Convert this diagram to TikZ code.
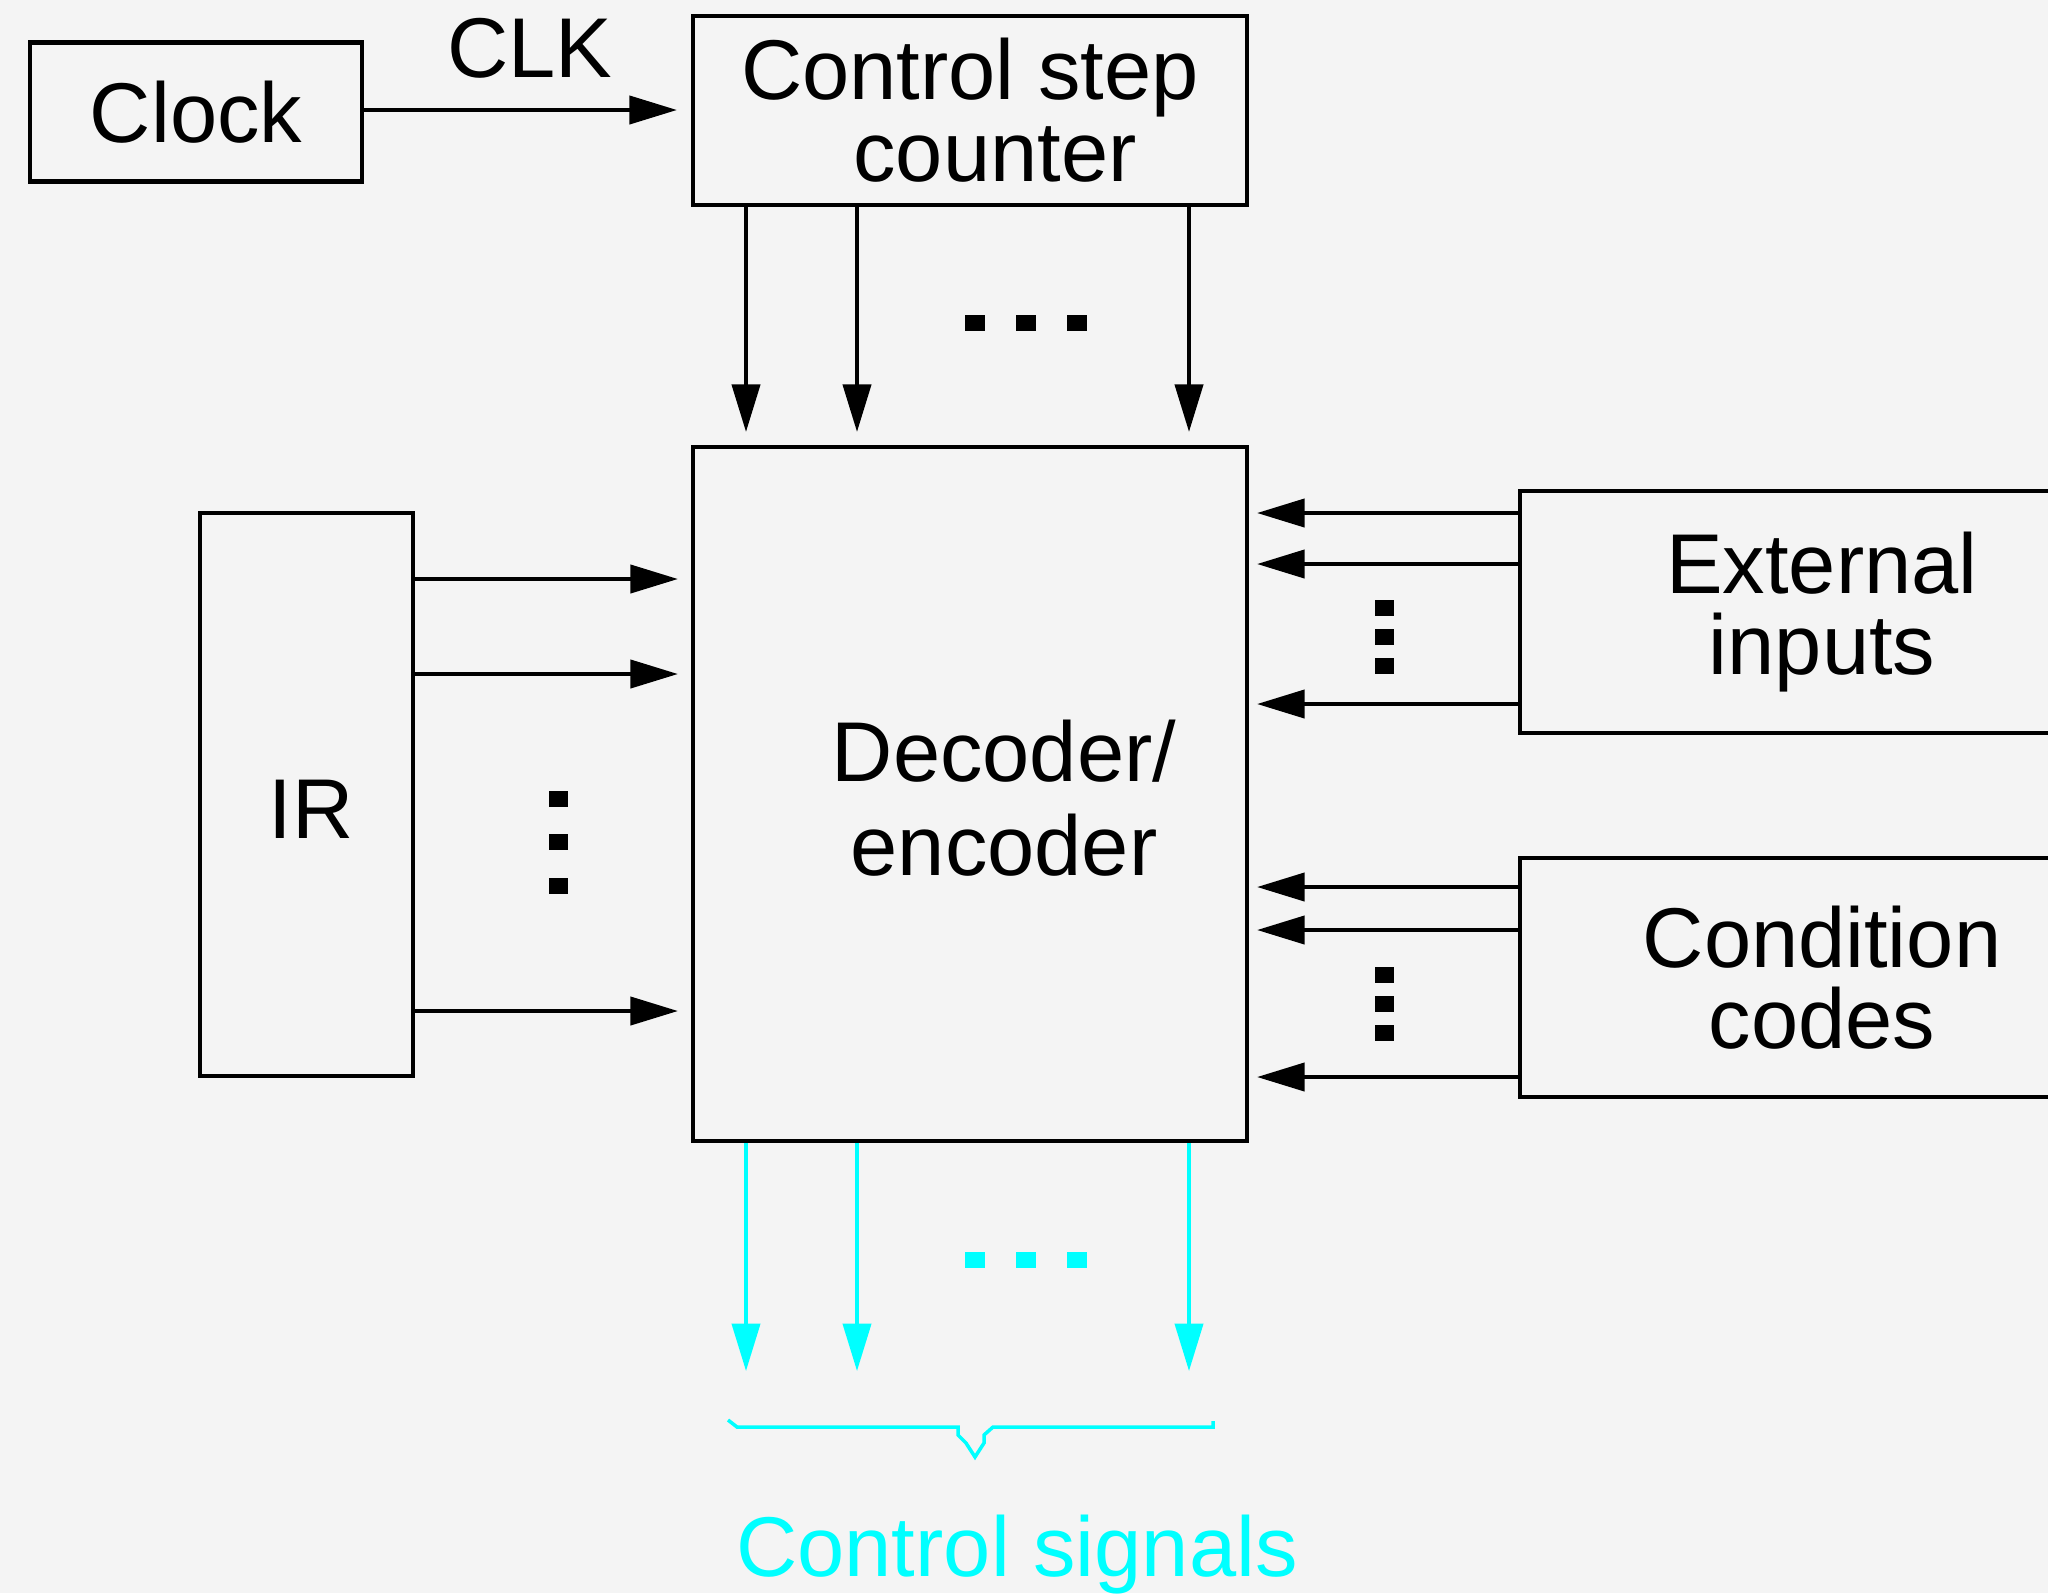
\documentclass[tikz,border=0pt]{standalone}
\usepackage{fontspec}
\setmainfont{Liberation Sans}
\usetikzlibrary{arrows.meta}
\definecolor{paper}{HTML}{F4F4F4}
\definecolor{sigcyan}{HTML}{00FFFF}
\tikzset{
    block/.style={draw, line width=2.5pt, inner sep=0pt, align=center,
        font=\fontsize{48.3}{46.5}\selectfont},
    txt/.style={inner sep=0pt, align=center, font=\fontsize{48.3}{46.5}\selectfont},
    feed/.style={line width=2.1pt, -{Triangle[length=27pt,width=16pt]}, shorten >=0.26cm}
}

\begin{document}
\begin{tikzpicture}[x=0.02cm, y=-0.02cm]
\useasboundingbox (0,0) rectangle (2048,1593);
\clip (0,0) rectangle (2048,1593);
\fill[paper] (0,0) rectangle (2048,1593);

\node[block, minimum width=6.64cm, minimum height=2.78cm] (clock) at (196,112) {Clock};
\node[block, minimum width=11.08cm, minimum height=3.78cm] (counter) at (970,110.5)
    {Control step\\\hspace*{1cm}counter};
\node[block, minimum width=11.08cm, minimum height=13.88cm] (dec) at (970,794) {};
\node[txt, font=\fontsize{48.3}{53.5}\selectfont] (dectext) at (1004,798) {Decoder/\\encoder};
\node[block, minimum width=4.26cm, minimum height=11.26cm] (ir) at (306.5,794.5) {};
\node[txt] (irtext) at (311,809) {IR};
\node[block, minimum width=12.08cm, minimum height=4.84cm] (ext) at (1822,612) {External\\inputs};
\node[block, minimum width=12.08cm, minimum height=4.78cm] (cc) at (1822,977.5) {Condition\\codes};

\draw[feed, shorten >=0.28cm] (clock.east |- 0,110) -- (counter.west |- 0,110)
    node[midway, above=0.6cm, xshift=0.05cm, txt] (clk) {CLK};

\foreach \x in {746,857,1189}
    \draw[feed] (\x,0 |- counter.south) -- (\x,0 |- dec.north);
\foreach \x in {975,1025.5,1076.5}
    \fill (\x-10,315) rectangle (\x+10,331);

\foreach \y in {579,674,1011}
    \draw[feed] (ir.east |- 0,\y) -- (dec.west |- 0,\y);
\foreach \y in {799,842,886}
    \fill (549,\y-8) rectangle (568,\y+8);

\foreach \y in {513,564,704}
    \draw[feed, shorten >=0.16cm] (ext.west |- 0,\y) -- (dec.east |- 0,\y);
\foreach \y in {607.5,636.5,666}
    \fill (1375,\y-8) rectangle (1394,\y+8);

\foreach \y in {887,930,1077}
    \draw[feed, shorten >=0.16cm] (cc.west |- 0,\y) -- (dec.east |- 0,\y);
\foreach \y in {974.5,1003.5,1033}
    \fill (1375,\y-8) rectangle (1394,\y+8);

% control signal outputs
\coordinate (sigend) at (970,1371);
\foreach \x in {746,857,1189}
    \draw[feed, sigcyan, shorten >=0pt] (\x,0 |- dec.south) -- (\x,0 |- sigend);
\foreach \x in {975,1025.5,1076.5}
    \fill[sigcyan] (\x-10,1252) rectangle (\x+10,1268);

\draw[sigcyan, line width=2pt] (728,1420) -- (737,1427) -- (958,1427) -- (958,1435)
    -- (966,1443) -- (975,1457) -- (984,1443) -- (984,1435) -- (993,1427)
    -- (1213,1427) -- (1213,1421);
\node[txt, anchor=base, text=sigcyan] (sigtext) at (1017,1576) {Control signals};
\end{tikzpicture}
\end{document}
